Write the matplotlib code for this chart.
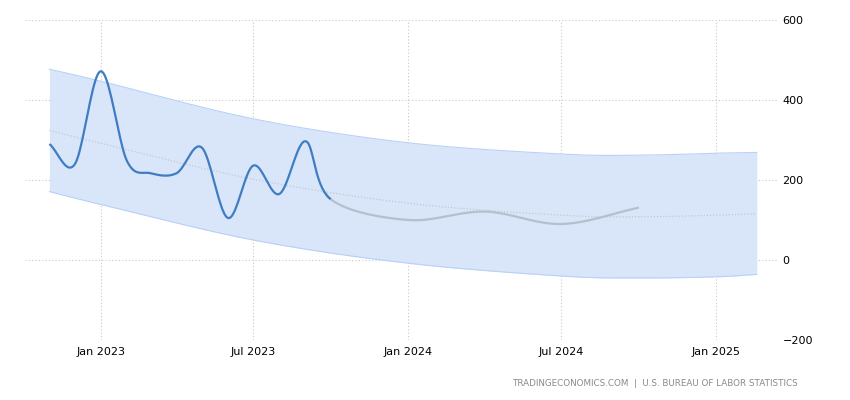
import numpy as np
import pandas as pd
import matplotlib
matplotlib.use("Agg")
from matplotlib import pyplot as plt
import matplotlib.dates as mdates

# monthly payroll change (thousands), actual
actual_dates = pd.date_range("2022-11-01", "2023-10-01", freq="MS")
actual_vals = [290, 239, 472, 248, 217, 217, 281, 105, 236, 165, 297, 152]

# forecast path (continues from the last actual point)
fc_dates = pd.to_datetime(["2024-01-01", "2024-04-01", "2024-07-01", "2024-10-01"])
fc_vals = [100, 121, 90, 131]

# trend and band
band_dates = pd.to_datetime(["2022-11-01", "2023-01-01", "2023-07-01", "2024-01-01",
                             "2024-07-01", "2024-10-01", "2025-01-01", "2025-02-18"])
trend_vals = [324, 292, 202, 142, 112, 108, 112, 116]
upper_vals = [477, 447, 353, 293, 265, 262, 267, 269]
lower_vals = [171, 139, 50, -8, -40, -45, -42, -36]

xticks = pd.to_datetime(["2023-01-01", "2023-07-01", "2024-01-01", "2024-07-01", "2025-01-01"])
xtick_labels = ["Jan 2023", "Jul 2023", "Jan 2024", "Jul 2024", "Jan 2025"]
yticks = [-200, 0, 200, 400, 600]


def smooth(dates, vals, n=20):
    # catmull-rom style curve through the points, for drawing only
    x = mdates.date2num(dates)
    y = np.asarray(vals, dtype=float)
    px = np.concatenate([[2 * x[0] - x[1]], x, [2 * x[-1] - x[-2]]])
    py = np.concatenate([[2 * y[0] - y[1]], y, [2 * y[-1] - y[-2]]])
    xs, ys = [], []
    t = np.linspace(0, 1, n, endpoint=False)
    for i in range(1, len(px) - 2):
        for p, out in ((px, xs), (py, ys)):
            p0, p1, p2, p3 = p[i - 1], p[i], p[i + 1], p[i + 2]
            out.append(0.5 * ((2 * p1) + (-p0 + p2) * t
                              + (2 * p0 - 5 * p1 + 4 * p2 - p3) * t ** 2
                              + (-p0 + 3 * p1 - 3 * p2 + p3) * t ** 3))
    xs = np.concatenate(xs + [[x[-1]]])
    ys = np.concatenate(ys + [[y[-1]]])
    return xs, ys


fig = plt.figure(figsize=(8.5, 4), dpi=100)
ax = fig.add_axes([25 / 850, 1 - 340 / 400, (777 - 25) / 850, 320 / 400])

bx, bu = smooth(band_dates, upper_vals)
_, bl = smooth(band_dates, lower_vals)
_, bt = smooth(band_dates, trend_vals)
ax.fill_between(bx, bl, bu, color="#d9e6f9", lw=0, zorder=1)
ax.plot(bx, bu, color="#b7d1f7", lw=0.8, zorder=2)
ax.plot(bx, bl, color="#b7d1f7", lw=0.8, zorder=2)
ax.plot(bx, bt, color="#c3c8d0", lw=0.9, ls=(0, (1, 1.5)), zorder=3)

all_dates = actual_dates.append(fc_dates)
all_vals = actual_vals + fc_vals
sx, sy = smooth(all_dates, all_vals)
split = mdates.date2num(actual_dates[-1])
ax.plot(sx[sx >= split - 8], sy[sx >= split - 8], color="#b6bfcc", lw=1.6,
        solid_capstyle="butt", zorder=4)
ax.plot(sx[sx <= split], sy[sx <= split], color="#3f7dc3", lw=1.6,
        solid_capstyle="butt", zorder=5)

ax.set_xlim(mdates.date2num(pd.Timestamp("2022-10-03")), mdates.date2num(pd.Timestamp("2025-03-14")))
ax.set_ylim(-200, 600)
ax.set_xticks(mdates.date2num(xticks))
ax.set_xticklabels(xtick_labels)
ax.set_yticks(yticks)
ax.yaxis.tick_right()
ax.grid(True, color="#c8c8c8", ls=(0, (1, 2)), lw=0.8)
ax.set_axisbelow(True)
for s in ax.spines.values():
    s.set_visible(False)
ax.tick_params(axis="both", length=0, labelsize=8, colors="#000000")
ax.tick_params(axis="y", pad=4)
ax.tick_params(axis="x", pad=5)
for lab in ax.get_yticklabels():
    lab.set_horizontalalignment("left")

fig.text(798 / 850, 1 - 383 / 400, "TRADINGECONOMICS.COM  |  U.S. BUREAU OF LABOR STATISTICS",
         ha="right", va="center", fontsize=6.3, color="#8a8a8a")

fig.savefig("out.png", dpi=100)
